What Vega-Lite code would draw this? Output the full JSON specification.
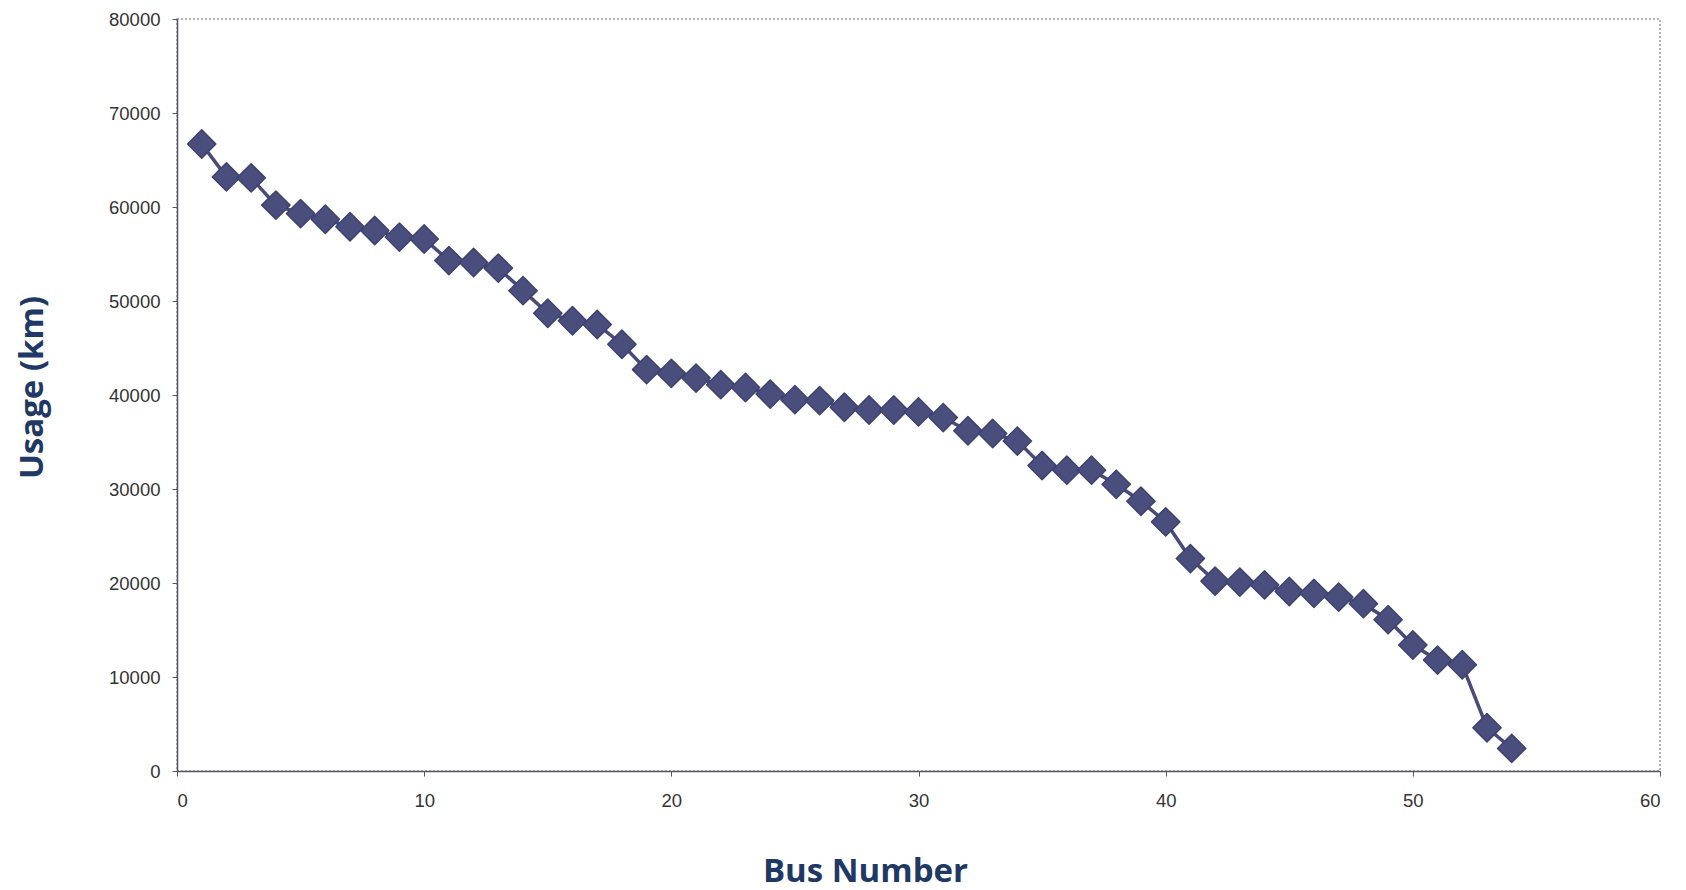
{
  "$schema": "https://vega.github.io/schema/vega-lite/v6.json",
  "autosize": "none",
  "width": 1483,
  "height": 752,
  "padding": {"left": 177, "top": 19, "right": 26, "bottom": 119},
  "background": "white",
  "config": {
    "view": {"stroke": "#9a9aa8", "strokeDash": [2, 2], "strokeWidth": 1.5},
    "axis": {"grid": false, "labelFont": "Liberation Sans", "labelFontSize": 18.5, "labelColor": "#333333", "domainColor": "#555566", "domainWidth": 1.5, "tickColor": "#555566", "tickSize": 5, "titleFont": "Open Sans", "titleFontWeight": "bold", "titleColor": "#1f3864", "titleFontSize": 33}
  },
  "data": {
    "values": [
      {"bus": 1, "usage": 66700}, {"bus": 2, "usage": 63200}, {"bus": 3, "usage": 63100},
      {"bus": 4, "usage": 60200}, {"bus": 5, "usage": 59300}, {"bus": 6, "usage": 58700},
      {"bus": 7, "usage": 57900}, {"bus": 8, "usage": 57500}, {"bus": 9, "usage": 56800},
      {"bus": 10, "usage": 56600}, {"bus": 11, "usage": 54300}, {"bus": 12, "usage": 54100},
      {"bus": 13, "usage": 53500}, {"bus": 14, "usage": 51100}, {"bus": 15, "usage": 48700},
      {"bus": 16, "usage": 47900}, {"bus": 17, "usage": 47500}, {"bus": 18, "usage": 45400},
      {"bus": 19, "usage": 42700}, {"bus": 20, "usage": 42300}, {"bus": 21, "usage": 41800},
      {"bus": 22, "usage": 41100}, {"bus": 23, "usage": 40800}, {"bus": 24, "usage": 40100},
      {"bus": 25, "usage": 39500}, {"bus": 26, "usage": 39400}, {"bus": 27, "usage": 38700},
      {"bus": 28, "usage": 38400}, {"bus": 29, "usage": 38400}, {"bus": 30, "usage": 38200},
      {"bus": 31, "usage": 37600}, {"bus": 32, "usage": 36200}, {"bus": 33, "usage": 35900},
      {"bus": 34, "usage": 35100}, {"bus": 35, "usage": 32500}, {"bus": 36, "usage": 32000},
      {"bus": 37, "usage": 32000}, {"bus": 38, "usage": 30500}, {"bus": 39, "usage": 28700},
      {"bus": 40, "usage": 26500}, {"bus": 41, "usage": 22600}, {"bus": 42, "usage": 20200},
      {"bus": 43, "usage": 20100}, {"bus": 44, "usage": 19800}, {"bus": 45, "usage": 19100},
      {"bus": 46, "usage": 18900}, {"bus": 47, "usage": 18500}, {"bus": 48, "usage": 17800},
      {"bus": 49, "usage": 16100}, {"bus": 50, "usage": 13400}, {"bus": 51, "usage": 11800},
      {"bus": 52, "usage": 11300}, {"bus": 53, "usage": 4600}, {"bus": 54, "usage": 2400}
    ]
  },
  "encoding": {
    "x": {"field": "bus", "type": "quantitative", "scale": {"domain": [0, 60], "nice": false},
      "axis": {"values": [0, 10, 20, 30, 40, 50, 60], "title": "Bus Number", "labelPadding": 15, "titleX": 688, "titleY": 100, "titleBaseline": "middle"}},
    "y": {"field": "usage", "type": "quantitative", "scale": {"domain": [0, 80000], "nice": false},
      "axis": {"values": [0, 10000, 20000, 30000, 40000, 50000, 60000, 70000, 80000], "format": "d", "title": "Usage (km)", "labelPadding": 12, "titleX": -145, "titleY": 368, "titleBaseline": "middle"}}
  },
  "layer": [
    {"mark": {"type": "line", "color": "#474b78", "strokeWidth": 3.5}},
    {"mark": {"type": "point", "shape": "diamond", "filled": true, "size": 800, "color": "#4a4e7c", "opacity": 1, "stroke": "#3e4270", "strokeWidth": 1.5, "strokeJoin": "round"}}
  ]
}
